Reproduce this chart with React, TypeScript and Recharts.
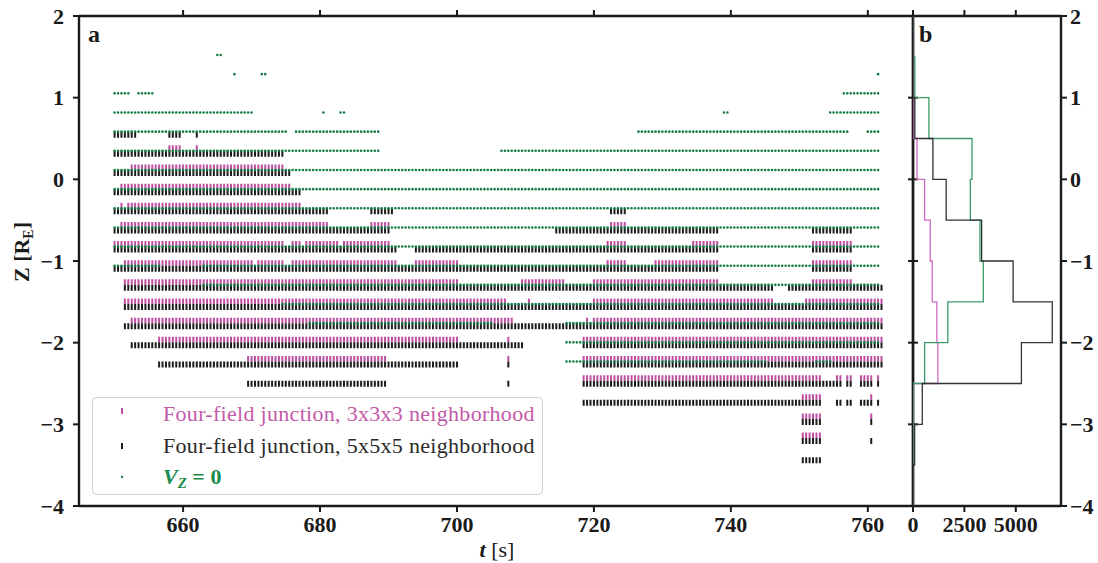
import React from 'react';
import { ComposedChart, XAxis, YAxis, ReferenceLine, Scatter } from 'recharts';

// ---------- data ----------
const T_DOMAIN: [number, number] = [644.8, 766.6];
const T_TICKS = [660, 680, 700, 720, 740, 760];
const Z_TICKS = [-4, -3, -2, -1, 0, 1, 2];
const CADENCE = 0.5; // s between samples

// grid rows (Z, R_E), top to bottom
const Z_LEVELS = [1.522, 1.288, 1.053, 0.819, 0.584, 0.35, 0.115, -0.12, -0.354, -0.589, -0.823, -1.058, -1.292, -1.527, -1.761, -1.996, -2.23, -2.465, -2.699, -2.934, -3.168, -3.403];

type Runs = [number, number][];

// V_Z = 0 samples, runs of [t start, t end] for each row
const GREEN_RUNS: Runs[] = [
  [[665, 666]],
  [[667.5, 667.5], [671.5, 672.5], [761.5, 761.5]],
  [[650, 652.5], [653.5, 656], [756.5, 762]],
  [[650, 670], [680.5, 680.5], [683, 684], [739, 740], [754.5, 762]],
  [[650, 675.5], [676.5, 689], [726.5, 757.5], [760, 762]],
  [[650, 689], [706.5, 762]],
  [[650, 762]],
  [[650, 762]],
  [[650, 762]],
  [[650, 762]],
  [[650, 762]],
  [[650, 657], [663, 762]],
  [[663, 762]],
  [[674.5, 762]],
  [[678.5, 705], [716, 762]],
  [[716, 762]],
  [[716, 745.5], [752.5, 755]],
  [], [], [], [], [],
];

// Four-field junction, 3x3x3 neighborhood
const MAGENTA_RUNS: Runs[] = [
  [], [], [], [], [],
  [[658, 659.5], [662, 662]],
  [[652.5, 674.5]],
  [[651, 675.5]],
  [[651, 651], [652, 677]],
  [[651, 681], [687.5, 690], [722.5, 724.5]],
  [[650, 674.5], [676, 677], [678, 682.5], [683.5, 690], [722, 724.5], [734.5, 737], [737.5, 738], [752, 757.5]],
  [[651.5, 670], [671, 674.5], [676, 691], [694, 700], [722, 724.5], [729, 738], [752, 757.5]],
  [[651.5, 700], [709.5, 715.5], [720, 723.5], [724, 738], [752, 757.5]],
  [[651.5, 707], [710.5, 710.5], [720, 746], [751, 762]],
  [[652.5, 708], [719, 719], [720, 762]],
  [[656.5, 700], [707.5, 707.5], [718.5, 762]],
  [[669.5, 689.5], [707.5, 707.5], [718.5, 762]],
  [[718.5, 753], [755.5, 756], [757, 757.5], [759, 760.5], [761.5, 761.5]],
  [[750.5, 753], [760.5, 760.5]],
  [[750.5, 753], [760.5, 760.5]],
  [[750.5, 753]],
  [],
];

// Four-field junction, 5x5x5 neighborhood
const BLACK_RUNS: Runs[] = [
  [], [], [], [],
  [[650, 653], [658, 659.5], [662, 662]],
  [[650, 674.5]],
  [[650, 675.5]],
  [[650, 677]],
  [[650, 681], [687.5, 690.5], [722.5, 724.5]],
  [[650, 690], [714.5, 738], [752, 757.5]],
  [[650, 691], [694, 738], [752, 757.5]],
  [[650, 738], [752, 757.5]],
  [[651.5, 746], [748.5, 762]],
  [[651.5, 762]],
  [[651.5, 762]],
  [[652.5, 709.5], [718.5, 762]],
  [[656.5, 700], [707.5, 707.5], [718.5, 762]],
  [[669.5, 689.5], [707.5, 707.5], [718.5, 755], [755.5, 756], [757, 757.5], [759, 760.5], [761.5, 761.5]],
  [[718.5, 753], [755.5, 756], [757, 757.5], [759, 760.5], [761.5, 761.5]],
  [[750.5, 753], [760.5, 760.5]],
  [[750.5, 753], [760.5, 760.5]],
  [[750.5, 753]],
];

// panel b histograms (bins top to bottom)
const BIN_EDGES = [2, 1.5, 1, 0.5, 0, -0.5, -1, -1.5, -2, -2.5, -3, -3.5, -4];
const HIST_GREEN = [0, 90, 774, 2871, 2790, 3258, 3420, 1694, 565, 0, 0, 0];
const HIST_BLACK = [0, 0, 90, 968, 1613, 3339, 4871, 6775, 5274, 452, 80, 0];
const HIST_MAGENTA = [0, 0, 0, 194, 565, 839, 935, 1161, 1210, 0, 0, 0];
const COUNT_DOMAIN: [number, number] = [0, 7200];
const COUNT_TICKS = [0, 2500, 5000];

// ---------- styles ----------
const MAGENTA = '#bf4fa3';
const BLACK = '#1c1c1c';
const GREEN = '#137d45';
const FONT = '"Liberation Serif", "Times New Roman", serif';
const INK = '#1a1a1a';
const AXIS_LINE = { stroke: INK, strokeWidth: 2.4 };
const TICK_LINE = { stroke: INK, strokeWidth: 2 };
const TICK_FONT = { fontFamily: FONT, fontWeight: 700, fontSize: 22, fill: INK };

// mirrored tick marks drawn at the plot frame
const topTickShape = (p: any) => (
  <line x1={p.x1} x2={p.x1} y1={Math.min(p.y1, p.y2) - 6} y2={Math.min(p.y1, p.y2)} stroke={INK} strokeWidth={2} />
);
const rightTickShape = (p: any) => {
  const xr = Math.max(p.x1, p.x2);
  return <line x1={xr - 5} x2={xr + 5} y1={p.y1} y2={p.y1} stroke={INK} strokeWidth={2} />;
};

const fmt = (v: number) => (v < 0 ? `\u2212${-v}` : `${v}`);

function makeShape(kind: 'm' | 'b' | 'g', t0: number, t1: number) {
  const n = Math.round((t1 - t0) / CADENCE);
  return (p: any) => {
    const x1 = Number(p.x1), x2 = Number(p.x2), y = Number(p.y1);
    const period = n > 0 ? (x2 - x1) / n : 0;
    if (kind === 'g') {
      if (n === 0) return <circle cx={x1} cy={y} r={1.3} fill={GREEN} />;
      return (
        <line x1={x1} x2={x2} y1={y} y2={y} stroke={GREEN} strokeWidth={2.6}
          strokeLinecap="round" strokeDasharray={`0 ${period}`} />
      );
    }
    const h = kind === 'm' ? 5.5 : 6;
    const dy = kind === 'm' ? -h / 2 : h / 2;
    const col = kind === 'm' ? MAGENTA : BLACK;
    const w = 2;
    return (
      <line x1={x1 - w / 2} x2={x2 + w / 2} y1={y + dy} y2={y + dy} stroke={col} strokeWidth={h}
        strokeDasharray={n > 0 ? `${w} ${period - w}` : undefined} />
    );
  };
}

function runLines(runs: Runs[], kind: 'm' | 'b' | 'g') {
  const out: React.ReactElement[] = [];
  runs.forEach((row, i) =>
    row.forEach(([t0, t1], j) => {
      out.push(
        <ReferenceLine
          key={`${kind}-${i}-${j}`}
          segment={[{ x: t0, y: Z_LEVELS[i] }, { x: t1, y: Z_LEVELS[i] }]}
          ifOverflow="visible"
          shape={makeShape(kind, t0, t1)}
        />
      );
    })
  );
  return out;
}

function stepPoints(counts: number[]) {
  const pts: { c: number; z: number }[] = [{ c: 0, z: BIN_EDGES[0] }];
  counts.forEach((c, i) => {
    pts.push({ c, z: BIN_EDGES[i] });
    pts.push({ c, z: BIN_EDGES[i + 1] });
  });
  pts.push({ c: 0, z: BIN_EDGES[BIN_EDGES.length - 1] });
  return pts;
}

const noShape = () => <g />;

export default function App() {
  return (
    <div style={{ position: 'absolute', left: 0, top: 0, width: 1098, height: 563, background: '#fff' }}>
      {/* panel a */}
      <div style={{ position: 'absolute', left: 0, top: 0 }}>
        <ComposedChart width={920} height={563} margin={{ top: 15, right: 6, bottom: 27, left: 19 }}>
          <XAxis xAxisId={0} type="number" dataKey="t" domain={T_DOMAIN} ticks={T_TICKS} allowDataOverflow
            height={30} axisLine={AXIS_LINE} tickLine={TICK_LINE} tickSize={6} tickMargin={4} tick={TICK_FONT} interval={0} />
          <XAxis xAxisId="top" orientation="top" type="number" domain={T_DOMAIN} ticks={T_TICKS} allowDataOverflow
            height={1} axisLine={AXIS_LINE} tickLine={false} tick={false} />
          <YAxis yAxisId={0} type="number" domain={[-4, 2]} ticks={Z_TICKS} allowDataOverflow width={60}
            axisLine={AXIS_LINE} tickLine={TICK_LINE} tickSize={6} tickMargin={9} tick={TICK_FONT}
            tickFormatter={fmt} interval={0} />
          <YAxis yAxisId="r" orientation="right" type="number" domain={[-4, 2]} ticks={Z_TICKS} allowDataOverflow width={1}
            axisLine={AXIS_LINE} tickLine={false} tick={false} />
          {T_TICKS.map((t) => (
            <ReferenceLine key={`tt${t}`} x={t} ifOverflow="visible" shape={topTickShape} />
          ))}
          {Z_TICKS.map((z) => (
            <ReferenceLine key={`rt${z}`} y={z} ifOverflow="visible" shape={rightTickShape} />
          ))}
          {runLines(MAGENTA_RUNS, 'm')}
          {runLines(BLACK_RUNS, 'b')}
          {runLines(GREEN_RUNS, 'g')}
        </ComposedChart>
      </div>

      {/* panel b */}
      <div style={{ position: 'absolute', left: 880, top: 0 }}>
        <ComposedChart width={218} height={563} margin={{ top: 15, right: 7, bottom: 27, left: 32 }}>
          <XAxis xAxisId={0} type="number" dataKey="c" domain={COUNT_DOMAIN} ticks={COUNT_TICKS} allowDataOverflow
            height={30} axisLine={AXIS_LINE} tickLine={TICK_LINE} tickSize={6} tickMargin={4} tick={TICK_FONT} interval={0} />
          <XAxis xAxisId="top" orientation="top" type="number" domain={COUNT_DOMAIN} ticks={COUNT_TICKS} allowDataOverflow
            height={1} axisLine={AXIS_LINE} tickLine={false} tick={false} />
          <YAxis yAxisId={0} type="number" dataKey="z" domain={[-4, 2]} ticks={Z_TICKS} allowDataOverflow width={1}
            axisLine={AXIS_LINE} tickLine={false} tick={false} />
          <YAxis yAxisId="r" orientation="right" type="number" domain={[-4, 2]} ticks={Z_TICKS} allowDataOverflow width={30}
            axisLine={AXIS_LINE} tickLine={TICK_LINE} tickSize={6} tickMargin={3} tick={TICK_FONT}
            tickFormatter={fmt} interval={0} />
          {COUNT_TICKS.map((c) => (
            <ReferenceLine key={`bt${c}`} x={c} ifOverflow="visible" shape={topTickShape} />
          ))}
          <Scatter data={stepPoints(HIST_MAGENTA)} dataKey="z" fill="#cf6ac4" line={{ stroke: '#cf6ac4', strokeWidth: 1.3 }}
            shape={noShape} isAnimationActive={false} legendType="none" />
          <Scatter data={stepPoints(HIST_GREEN)} dataKey="z" fill="#3b9a6a" line={{ stroke: '#3b9a6a', strokeWidth: 1.3 }}
            shape={noShape} isAnimationActive={false} legendType="none" />
          <Scatter data={stepPoints(HIST_BLACK)} dataKey="z" fill="#333" line={{ stroke: '#333', strokeWidth: 1.3 }}
            shape={noShape} isAnimationActive={false} legendType="none" />
        </ComposedChart>
      </div>

      {/* text overlay: panel letters, axis labels, legend */}
      <svg width={1098} height={563} style={{ position: 'absolute', left: 0, top: 0, pointerEvents: 'none' }}>
        <text x={88} y={42} fontFamily={FONT} fontWeight={700} fontSize={24} fill={INK}>a</text>
        <text x={919} y={42} fontFamily={FONT} fontWeight={700} fontSize={24} fill={INK}>b</text>
        <text x={497} y={557} textAnchor="middle" fontFamily={FONT} fontSize={22} fill={INK}>
          <tspan fontWeight={700} fontStyle="italic">t</tspan>
          <tspan> [s]</tspan>
        </text>
        <text transform="translate(29,252) rotate(-90)" textAnchor="middle" fontFamily={FONT} fontSize={22} fontWeight={700} fill={INK}>
          <tspan>Z [R</tspan>
          <tspan fontSize={14} dy={4}>E</tspan>
          <tspan dy={-4}>]</tspan>
        </text>

        <rect x={92.5} y={397.5} width={450} height={97} rx={4} fill="#ffffff" fillOpacity={0.8} stroke="#d0d0d0" strokeWidth={1} />
        <rect x={121} y={408} width={2} height={6} fill={MAGENTA} />
        <text x={163} y={421} fontFamily={FONT} fontSize={22} letterSpacing={0.3} fill="#c25aa8">Four-field junction, 3x3x3 neighborhood</text>
        <rect x={121} y={443} width={2} height={6} fill={BLACK} />
        <text x={163} y={453} fontFamily={FONT} fontSize={22} letterSpacing={0.3} fill="#2a2a2a">Four-field junction, 5x5x5 neighborhood</text>
        <circle cx={122} cy={477} r={1.2} fill={GREEN} />
        <text x={163} y={484} fontFamily={FONT} fontSize={22} fontWeight={700} fill="#1b8a4d">
          <tspan fontStyle="italic">V</tspan>
          <tspan fontStyle="italic" fontSize={15} dy={4}>Z</tspan>
          <tspan dy={-4}> = 0</tspan>
        </text>
      </svg>
    </div>
  );
}
